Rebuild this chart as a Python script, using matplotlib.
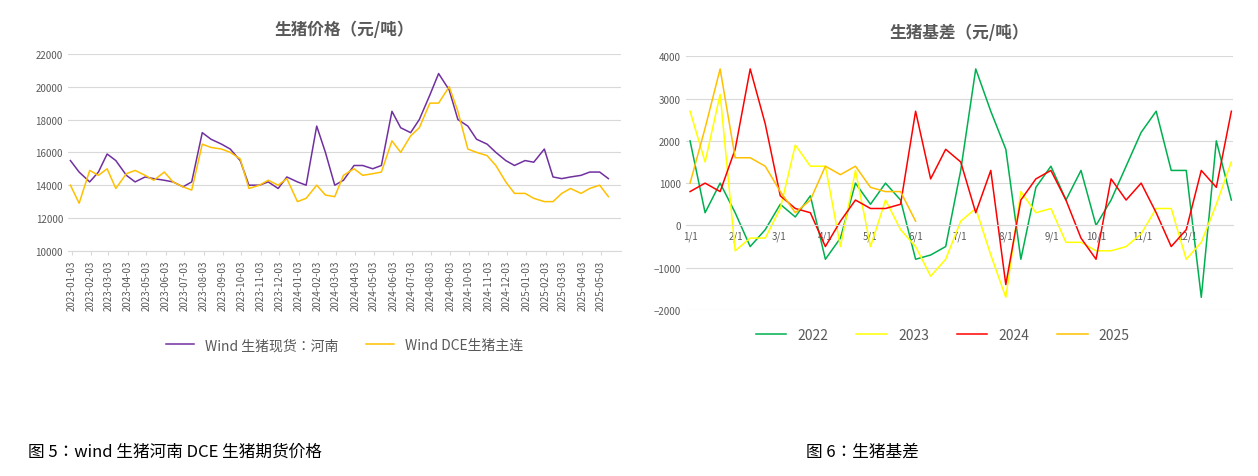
import matplotlib
matplotlib.use("Agg")
import matplotlib.pyplot as plt
import matplotlib.dates as mdates
from matplotlib import font_manager
import numpy as np
import pandas as pd

cjk = [f.name for f in font_manager.fontManager.ttflist if "CJK" in f.name]
pref = [n for n in ["Noto Sans CJK SC", "Noto Sans CJK JP", "Noto Sans CJK TC", "Noto Sans CJK KR"] if n in cjk]
plt.rcParams["font.family"] = (pref[:1] or cjk[:1]) + ["DejaVu Sans"]

# ---- left chart data (semi-monthly) ----
spot_henan = [15500, 14800, 14200, 14800, 15900, 15500, 14600, 14200, 14500, 14400, 14300, 14200,
              13900, 14200, 17200, 16800, 16500, 16200, 15500, 14000, 14000, 14200, 13800, 14500,
              14200, 14000, 17600, 16000, 14000, 14300, 15200, 15200, 15000, 15200, 18500, 17500,
              17200, 18000, 19500, 20800, 19800, 18000, 17600, 16800, 16500, 16000, 15500, 15200,
              15500, 15400, 16200, 14500, 14400, 14500, 14600, 14800, 14800, 14400]
dce_main = [14000, 12900, 14900, 14600, 15000, 13800, 14700, 14900, 14600, 14300, 14800, 14200,
            13900, 13700, 16500, 16300, 16200, 16000, 15600, 13800, 14000, 14300, 14000, 14400,
            13000, 13200, 14000, 13400, 13300, 14600, 15000, 14600, 14700, 14800, 16700, 16000,
            17000, 17500, 19000, 19000, 20000, 18500, 16200, 16000, 15800, 15200, 14200, 13500,
            13500, 13200, 13000, 13000, 13500, 13800, 13500, 13800, 14000, 13300]
left_start = "2023-01-01"
left_ticks = pd.date_range("2023-01-01", "2025-05-01", freq="MS") + pd.Timedelta(days=2)

# ---- right chart data (thirds of month) ----
basis_2022 = [2000, 300, 1000, 300, -500, -100, 500, 200, 700, -800, -300, 1000, 500, 1000, 600,
              -800, -700, -500, 1300, 3700, 2700, 1800, -800, 900, 1400, 600, 1300, 0, 600, 1400,
              2200, 2700, 1300, 1300, -1700, 2000, 600]
basis_2023 = [2700, 1500, 3100, -600, -300, -300, 400, 1900, 1400, 1400, -500, 1300, -500, 600, -100,
              -500, -1200, -800, 100, 400, -700, -1700, 800, 300, 400, -400, -400, -600, -600, -500,
              -200, 400, 400, -800, -400, 500, 1500]
basis_2024 = [800, 1000, 800, 1800, 3700, 2400, 700, 400, 300, -500, 100, 600, 400, 400, 500,
              2700, 1100, 1800, 1500, 300, 1300, -1400, 600, 1100, 1300, 600, -300, -800, 1100, 600,
              1000, 300, -500, -100, 1300, 900, 2700]
basis_2025 = [1000, 2300, 3700, 1600, 1600, 1400, 800, 300, 600, 1400, 1200, 1400, 900, 800, 800, 100]
month_labels = ["1/1", "2/1", "3/1", "4/1", "5/1", "6/1", "7/1", "8/1", "9/1", "10/1", "11/1", "12/1"]

fig = plt.figure(figsize=(12.58, 4.77), dpi=100)
grid_c = "#d9d9d9"
tick_c = "#595959"

# ---- left ----
ax1 = fig.add_axes([0.054, 0.472, 0.44, 0.413])
dates = pd.date_range(left_start, periods=len(spot_henan), freq="SMS")
ax1.plot(dates, spot_henan, color="#7030a0", lw=1.1, label="Wind 生猪现货：河南")
ax1.plot(dates, dce_main, color="#ffc000", lw=1.1, label="Wind DCE生猪主连")
ax1.set_ylim(10000, 22000)
ax1.set_yticks(np.arange(10000, 22001, 2000))
ax1.set_xlim(pd.Timestamp("2022-12-28"), pd.Timestamp("2025-06-05"))
ax1.set_xticks(left_ticks)
ax1.xaxis.set_major_formatter(mdates.DateFormatter("%Y-%m-%d"))
plt.setp(ax1.get_xticklabels(), rotation=90)
ax1.tick_params(labelsize=7, colors=tick_c, length=0)
ax1.tick_params(axis="x", length=3, color=grid_c)
ax1.grid(axis="y", color=grid_c, lw=0.8)
for s in ["top", "right", "left"]:
    ax1.spines[s].set_visible(False)
ax1.spines["bottom"].set_color(grid_c)
ax1.set_title("生猪价格（元/吨）", fontsize=12, color=tick_c, fontweight="bold", pad=14)
ax1.legend(loc="upper center", bbox_to_anchor=(0.5, -0.38), ncol=2, frameon=False,
           fontsize=10, labelcolor=tick_c, handlelength=2)

# ---- right ----
ax2 = fig.add_axes([0.545, 0.348, 0.435, 0.532])
def days(n):
    return np.arange(n) * 365 / 36
ax2.plot(days(len(basis_2022)), basis_2022, color="#00b050", lw=1.1, label="2022")
ax2.plot(days(len(basis_2023)), basis_2023, color="#ffff00", lw=1.1, label="2023")
ax2.plot(days(len(basis_2024)), basis_2024, color="#ff0000", lw=1.1, label="2024")
ax2.plot(days(len(basis_2025)), basis_2025, color="#ffc000", lw=1.1, label="2025")
ax2.set_ylim(-2000, 4000)
ax2.set_yticks(np.arange(-2000, 4001, 1000))
ax2.set_xlim(-3, 366)
ax2.set_xticks(pd.date_range("2024-01-01", periods=12, freq="MS").dayofyear - 1)
ax2.set_xticklabels(month_labels)
ax2.spines["bottom"].set_position(("data", 0))
ax2.spines["bottom"].set_color(grid_c)
for s in ["top", "right", "left"]:
    ax2.spines[s].set_visible(False)
ax2.tick_params(labelsize=7, colors=tick_c, length=0)
ax2.grid(axis="y", color=grid_c, lw=0.8)
ax2.set_title("生猪基差（元/吨）", fontsize=12, color=tick_c, fontweight="bold", pad=14)
ax2.legend(loc="upper center", bbox_to_anchor=(0.47, -0.02), ncol=4, frameon=False,
           fontsize=10, labelcolor=tick_c, handlelength=2.2)

fig.text(28 / 1258, 1 - 452 / 477, "图 5：wind 生猪河南 DCE 生猪期货价格", fontsize=12, va="center")
fig.text(806 / 1258, 1 - 452 / 477, "图 6：生猪基差", fontsize=12, va="center")

fig.savefig("out.png", dpi=100)
